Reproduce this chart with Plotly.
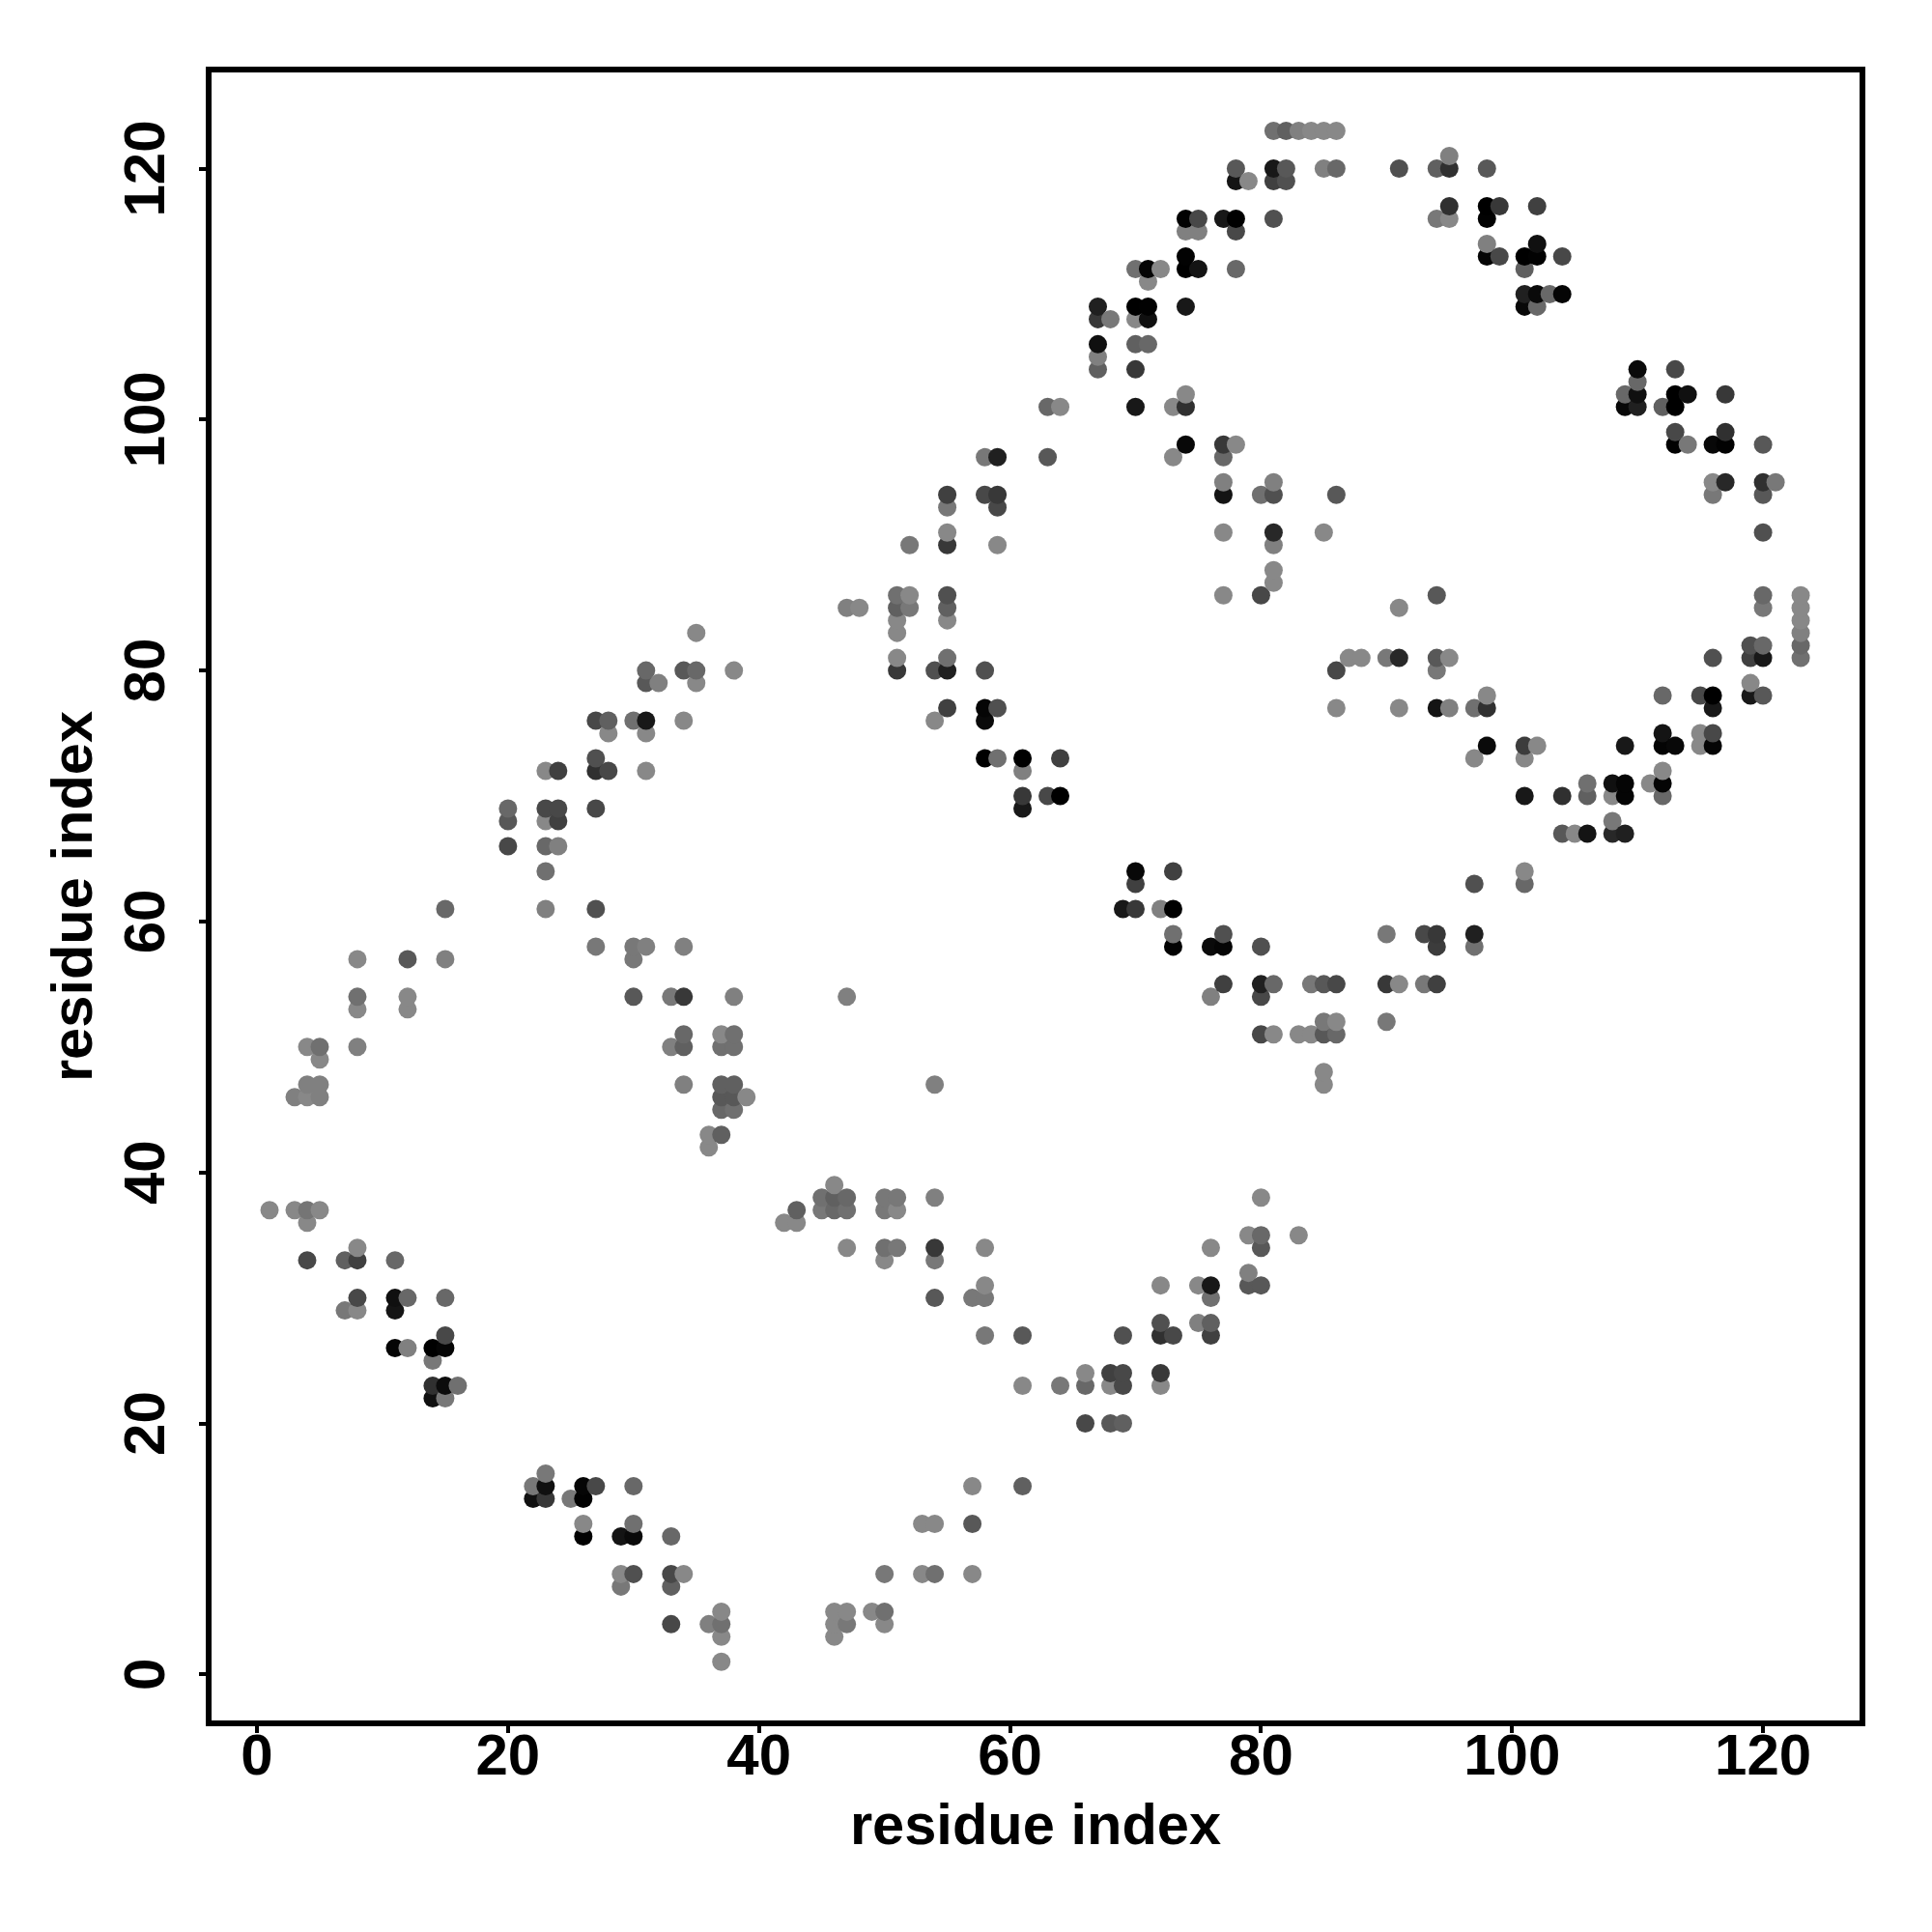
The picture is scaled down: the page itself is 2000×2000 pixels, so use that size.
import plotly.graph_objects as go

L = 0x88  # lightest grey seen in the picture

# (residue x, residue y, grey level)
band_low_left = [
 (1,37,L),(3,37,L),(4,37,0x75),(5,37,L),(4,36,L),(4,33,0x48),(7,33,0x60),(8,33,0x40),(8,34,L),(11,33,0x68),
 (8,30,0x48),(7,29,0x78),(8,29,L),(11,30,0x10),(11,29,0x15),(12,30,0x68),(15,30,0x68),(15,27,0x48),(11,26,0x05),
 (12,26,0x80),(14,26,0),(15,26,0x05),(14,25,0x78),(14,23,0x30),(15,23,0x0c),(16,23,0x70),(14,22,0x10),(15,22,0x78),
 (23,16,0x78),(22,15,0x78),(23,15,0x10),(22,14,0x10),(23,14,0x38),(26,15,0x05),(27,15,0x48),(25,14,0x78),(26,14,0x02),
 (30,15,0x68),(26,12,L),(26,11,0x02),(29,11,0x14),(30,11,0x0a),(30,12,0x70),(33,11,0x68),(29,8,L),(30,8,0x50),(33,8,0x48),
 (34,8,L),(29,7,0x78),(33,7,0x60),(33,4,0x48),(36,4,0x80),(37,4,0x70),(37,5,L),(37,3,L),(37,1,L),(36,42,L),
]
band_low_mid = [
 (42,36,L),(43,36,L),(43,37,0x60),(46,39,L),(45,38,0x70),(46,38,0x60),(47,38,0x68),(45,37,0x78),(46,37,0x68),(47,37,0x70),
 (50,38,0x78),(51,38,0x78),(50,37,0x78),(51,37,L),(54,38,0x80),(47,34,L),(50,34,0x70),(51,34,0x78),(50,33,L),(54,34,0x38),
 (54,33,0x78),(58,34,L),(58,31,L),(57,30,0x78),(58,30,0x78),(54,30,0x58),(58,27,0x78),(61,27,0x58),(69,27,0x50),(72,28,0x50),
 (72,27,0x30),(73,27,0x48),(75,28,0x80),(76,28,0x60),(76,27,0x40),(72,31,L),(75,31,L),(76,31,0x18),(76,30,0x70),(79,32,0x80),
 (79,31,0x58),(80,31,0x58),(80,38,L),(79,35,L),(80,35,0x68),(80,34,0x58),(76,34,L),(83,35,L),(66,24,L),(66,23,0x68),(64,23,0x78),
 (61,23,L),(68,24,0x40),(69,24,0x48),(68,23,L),(69,23,0x48),(72,24,0x38),(72,23,L),(66,20,0x48),(68,20,0x58),(69,20,0x60),
 (57,15,L),(61,15,0x60),(53,12,L),(54,12,L),(57,12,0x58),(50,8,0x78),(53,8,L),(54,8,0x70),(57,8,L),(46,5,L),(47,5,L),(49,5,L),
 (50,5,0x70),(50,4,L),(46,4,L),(47,4,0x78),(46,3,L),
]
band_mid_left = [
 (35,83,L),(31,80,0x68),(31,79,0x58),(32,79,0x80),(34,80,0x58),(35,80,0x68),(35,79,L),(38,80,L),(27,76,0x48),(28,76,0x60),
 (28,75,L),(30,76,0x70),(31,76,0x18),(31,75,L),(34,76,L),(27,73,0x50),(27,72,0x30),(28,72,0x48),(23,72,L),(24,72,0x40),(31,72,L),
 (20,69,0x68),(20,68,0x58),(23,69,0x48),(24,69,0x48),(23,68,L),(24,68,0x40),(27,69,0x48),(20,66,0x48),(23,66,0x68),(24,66,0x80),
 (23,64,0x70),(15,61,0x68),(23,61,0x80),(27,61,0x50),(27,58,0x78),(30,58,0x78),(31,58,0x80),(30,57,0x78),(34,58,0x80),(8,57,L),
 (12,57,0x58),(15,57,0x80),(8,54,0x70),(12,54,L),(8,53,L),(12,53,L),(30,54,0x58),(33,54,0x78),(34,54,0x38),(38,54,0x80),
 (34,51,0x68),(34,50,0x60),(33,50,0x80),(37,51,L),(38,51,0x70),(37,50,0x70),(38,50,0x70),(4,50,L),(5,50,0x70),(5,49,L),(8,50,0x80),
 (4,47,0x80),(5,47,0x80),(3,46,0x80),(4,46,L),(5,46,0x80),(34,47,0x80),(37,47,0x60),(38,47,0x60),(37,46,0x58),(38,46,0x58),(39,46,L),
 (37,45,0x68),(38,45,0x70),(36,43,L),(37,43,0x60),
]
band_mid_centre = [
 (48,85,L),(47,85,0x80),(51,86,0x70),(52,86,L),(51,85,0x60),(52,85,0x78),(51,84,L),(51,83,L),(55,86,0x50),(55,85,0x60),(55,84,L),
 (51,81,L),(51,80,0x38),(54,80,0x50),(55,80,0x20),(55,81,0x70),(58,80,0x50),(55,77,0x40),(54,76,L),(58,77,0x05),(58,76,0x0a),
 (59,77,0x50),(58,73,0),(59,73,0x70),(61,73,0),(61,72,0x80),(64,73,0x40),(61,70,0x38),(61,69,0x18),(63,70,0x48),(64,70,0),
 (70,64,0x08),(70,63,0x40),(73,64,0x40),(69,61,0x18),(70,61,0x38),(72,61,0x80),(73,61,0),(73,59,0x70),(73,58,0x02),(76,58,0x0a),
 (77,58,0x05),(77,59,0x50),(80,58,0x50),(77,55,0x40),(76,54,0x80),(80,55,0x20),(81,55,0x68),(80,54,0x48),(80,51,0x48),(81,51,L),
 (83,51,L),(47,54,0x80),(54,47,0x80),
]
band_mid_right = [
 (91,85,L),(94,86,0x58),(120,86,0x68),(120,85,0x78),(123,86,L),(123,85,L),(123,84,L),(123,83,0x80),(123,82,0x68),(123,81,0x70),
 (119,82,0x50),(120,82,0x68),(119,81,0x40),(120,81,0x18),(116,81,0x50),(119,79,L),(119,78,0x18),(120,78,0x58),(112,78,0x68),
 (115,78,0x48),(116,78,0),(116,77,0x18),(87,81,L),(88,81,L),(86,80,0x48),(90,81,0x78),(91,81,0x28),(94,81,0x58),(95,81,L),(94,80,0x78),
 (86,77,L),(91,77,L),(94,77,0x14),(95,77,0x80),(97,77,0x70),(98,77,0x30),(98,78,L),(98,74,0x0a),(97,73,L),(101,74,0x3c),(102,74,L),
 (101,73,L),(109,74,0x18),(112,75,0x14),(112,74,0x04),(113,74,0x08),(115,75,L),(116,75,0x48),(115,74,L),(116,74,0x05),(112,72,L),
 (112,71,0x05),(111,71,L),(112,70,0x68),(108,71,0x10),(109,71,0x05),(108,70,L),(109,70,0x05),(106,71,0x70),(106,70,0x60),(104,70,0x30),
 (101,70,0x18),(108,68,0x78),(104,67,0x58),(105,67,L),(106,67,0x14),(108,67,0x28),(109,67,0x20),(101,64,L),(101,63,0x68),(97,63,0x50),
 (97,59,0x20),(97,58,0x70),(90,59,0x78),(93,59,0x48),(94,59,0x38),(94,58,0x3c),(84,55,0x78),(85,55,0x58),(86,55,0x48),(90,55,0x38),
 (91,55,L),(93,55,0x78),(94,55,0x40),(90,52,0x78),(85,52,0x78),(86,52,L),(84,51,L),(85,51,0x58),(86,51,0x68),(85,48,L),(85,47,L),
]
band_top_centre = [
 (81,123,0x70),(82,123,0x60),(78,120,0x58),(78,119,0x14),(79,119,L),(81,120,0x18),(82,120,0x58),(81,119,0x40),(82,119,0x50),
 (74,116,0x02),(75,116,0x48),(74,115,0x80),(75,115,0x80),(77,116,0x18),(78,116,0),(78,115,0x48),(81,116,0x50),(74,113,0x02),(74,112,0),
 (75,112,0x14),(70,112,0x70),(71,112,0x05),(72,112,L),(71,111,L),(78,112,0x68),(67,109,0x20),(67,108,0x38),(68,108,0x78),(70,109,0),
 (71,109,0x02),(70,108,L),(71,108,0x10),(74,109,0x18),(67,106,0x10),(67,105,0x80),(67,104,0x60),(70,106,0x60),(71,106,0x68),(70,104,0x38),
 (63,101,0x68),(64,101,L),(70,101,0x18),(74,102,L),(74,101,0x30),(73,101,L),(74,98,0x08),(73,97,L),(77,98,0x38),(78,98,L),(77,97,0x68),
 (58,97,0x78),(59,97,0x20),(63,97,0x58),(55,94,0x40),(55,93,0x78),(58,94,0x48),(59,94,0x38),(59,93,0x48),(77,95,0x80),(77,94,0x14),
 (80,94,0x70),(81,95,0x80),(81,94,0x50),(55,91,L),(55,90,0x38),(52,90,0x78),(59,90,L),(77,91,L),(81,91,0x28),(81,90,0x80),(81,88,L),
 (81,87,L),(77,86,L),(80,86,0x48),
]
band_top_right = [
 (83,123,0x80),(84,123,L),(85,123,L),(86,123,L),(85,120,0x80),(86,120,0x68),(91,120,0x50),(94,120,0x60),(95,120,0x30),(95,121,0x80),
 (98,120,0x58),(95,117,0x30),(94,116,0x78),(95,116,L),(98,117,0),(98,116,0x02),(99,117,0x38),(102,117,0x40),(98,114,0x80),(98,113,0x05),
 (99,113,0x48),(101,113,0),(102,113,0x02),(102,114,0x10),(101,112,0x60),(104,113,0x48),(101,110,0x20),(102,110,0x0a),(103,110,0x68),
 (104,110,0x05),(101,109,0x08),(102,109,0x68),(110,104,0x0a),(110,103,0x68),(109,102,0x68),(110,102,0x10),(109,101,0x08),(110,101,0x20),
 (113,104,0x48),(113,102,0),(114,102,0x10),(112,101,0x60),(113,101,0),(117,102,0x38),(113,99,0x48),(113,98,0x02),(114,98,0x78),(116,98,0x08),
 (117,98,0x02),(117,99,0x30),(120,98,0x58),(116,95,L),(116,94,0x78),(117,95,0x28),(120,95,0x30),(121,95,0x78),(120,94,0x58),(86,94,0x58),
 (85,91,L),(120,91,0x50),
]
tick_values = [0, 20, 40, 60, 80, 100, 120]
axis_title = "residue index"

merged = {}
for band in (band_low_left, band_low_mid, band_mid_left, band_mid_centre, band_mid_right, band_top_centre, band_top_right):
    for px, py, g in band:
        merged[(px, py)] = g
ordered = sorted(merged)  # later x, then later y, is painted on top
xs = [k[0] for k in ordered]
ys = [k[1] for k in ordered]
colors = [f"rgb({merged[k]},{merged[k]},{merged[k]})" for k in ordered]

FONT = "Liberation Sans"
fig = go.Figure(go.Scatter(x=xs, y=ys, mode="markers",
                           marker=dict(size=19, color=colors, line=dict(width=0)),
                           hoverinfo="skip", showlegend=False))
axis = dict(tickvals=tick_values, ticks="outside", ticklen=7, tickwidth=4,
            tickcolor="black", showgrid=False, zeroline=False, showline=True, mirror=True,
            linecolor="black", linewidth=6,
            tickfont=dict(family=FONT, size=60, color="black", weight="bold"))
title_font = dict(family=FONT, size=59.6, color="black", weight="bold")
fig.update_xaxes(**axis, range=[-3.62, 127.69], ticklabelstandoff=-29, title=dict(text=axis_title, standoff=20, font=title_font))
fig.update_yaxes(**axis, range=[-3.67, 127.66], tickangle=-90, ticklabelstandoff=12, ticklabelshift=9, title=dict(text=axis_title, standoff=3, font=title_font))
fig.update_layout(width=2000, height=2000, autosize=False, plot_bgcolor="white", paper_bgcolor="white",
                  margin=dict(l=211.3, r=83, t=67, b=227, pad=0))
fig.write_html("out.html")
